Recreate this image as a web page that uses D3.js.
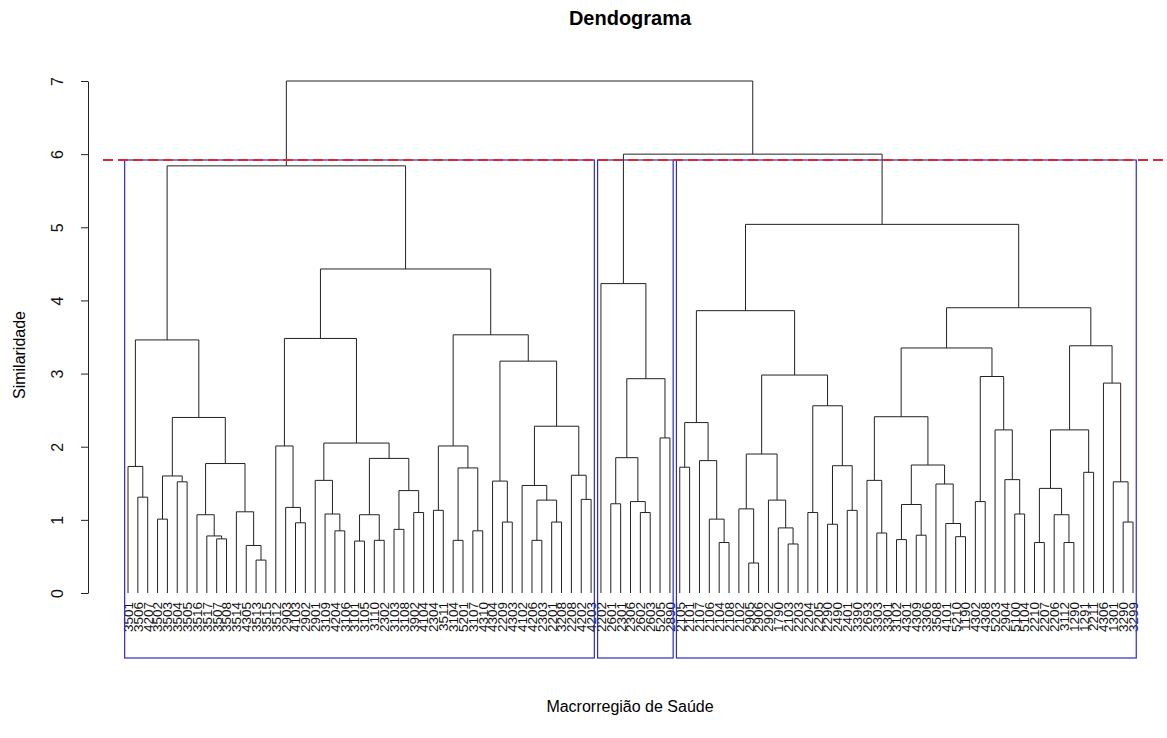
<!DOCTYPE html>
<html>
<head>
<meta charset="utf-8">
<script src="https://cdn.jsdelivr.net/npm/d3@7"></script>
<style>
  body { margin: 0; background: #fff; }
  svg { display: block; font-family: "Liberation Sans", Arial, sans-serif; }
</style>
</head>
<body>
<div id="chart"></div>
<script>
// Rótulos das folhas, na ordem em que aparecem no gráfico
const labels = [
  "3501","3506","4207","3502","3503","3504","3505","3516","3517","3507","3508","3514","4305","3513","3515","3512",
  "2903","4103","2902","2901","3109","4204","3106","3101","3105","3110","2302","3103","3108","3902","4104","2304",
  "3511","3104","5201","3107","4310","4304","2209","4303","4102","4206","2303","2201","3208","2208","4202","4203",
  "2202","2601","2301","2306","2602","2603","5205","2890",
  "2105","2101","2107","2106","2104","2108","2102","2905","2906","2902","1790","2103","2203","2204","2205","2290",
  "2490","2401","3390","2693","3303","3301","3102","4301","4309","3306","3508","4101","5210","1190","4302","4308",
  "5203","2904","5100","5104","2210","2207","2206","3112","1290","1291","2211","4306","1301","3290","3299"
];

// Fusões (estilo hclust): negativo = folha, positivo = fusão anterior
const mergeLeft = [
  -2, -1, -4, -6, 3, -10, -9, -8, -14, -13, -12, 8, 5, 2,
  -18, -17, -16, -22, -21, -20, -24, -26, 21, -28, -30, 24, 23, 20, 17,
  -32, -34, -36, 31, 30, -39, -38, -42, -44, 37, -41, -47, -46, 40, 36, 34, 29, 14,
  -50, -53, -52, 48, -55, 51, -49,
  -57, -61, -60, -59, 55, -64, -63, -68, -67, -66, 61, -70, -72, -74, 67, 66, 65, 59,
  -77, -76, -79, -81, 75, -85, -84, -83, 77, 74, -87, -91, -90, -89, 83, 82,
  -93, -96, -95, 89, -98, 92, -102, -101, -100, 94, 88, 72, 54, 47
];
const mergeRight = [
  -3, 1, -5, -7, 4, -11, 6, 7, -15, 9, 10, 11, 12, 13,
  -19, 15, 16, -23, 18, 19, -25, -27, 22, -29, -31, 25, 26, 27, 28,
  -33, -35, -37, 32, 33, -40, 35, -43, -45, 38, 39, -48, 41, 42, 43, 44, 45, 46,
  -51, -54, 49, 50, -56, 52, 53,
  -58, -62, 56, 57, 58, -65, 60, -69, 62, 63, 64, -71, -73, -75, 68, 69, 70, 71,
  -78, 73, -80, -82, 76, -86, 78, 79, 80, 81, -88, -92, 84, 85, 86, 87,
  -94, -97, 90, 91, -99, 93, -103, 95, 96, 97, 98, 99, 100, 101
];
const mergeHeight = [
  1.31, 1.73, 1.01, 1.52, 1.60, 0.74, 0.78, 1.07, 0.45, 0.65, 1.11, 1.77, 2.40, 3.46,
  0.96, 1.17, 2.01, 0.85, 1.08, 1.54, 0.71, 0.72, 1.07, 0.87, 1.10, 1.40, 1.84, 2.05, 3.48,
  1.13, 0.72, 0.85, 1.71, 2.01, 0.97, 1.53, 0.72, 0.97, 1.27, 1.47, 1.28, 1.61, 2.28, 3.17, 3.53, 4.43, 5.84,
  1.22, 1.10, 1.25, 1.85, 2.12, 2.93, 4.23,
  1.72, 0.69, 1.01, 1.81, 2.33, 0.41, 1.15, 0.67, 0.89, 1.27, 1.90, 1.10, 0.94, 1.13, 1.74, 2.56, 2.98, 3.86,
  0.82, 1.54, 0.73, 0.79, 1.21, 0.77, 0.95, 1.49, 1.75, 2.41, 1.25, 1.08, 1.55, 2.23, 2.96, 3.35,
  0.69, 0.69, 1.07, 1.43, 1.65, 2.23, 0.97, 1.52, 2.87, 3.38, 3.90, 5.04, 6.00, 7.00
];

const yTicks = [0, 1, 2, 3, 4, 5, 6, 7];
const clusterSizes = [48, 8, 47];
const cutHeight = 5.92;

const W = 1167, H = 738;
const svg = d3.select('#chart').append('svg')
  .attr('width', W)
  .attr('height', H);

const x = d3.scaleLinear().domain([1, labels.length]).range([128, 1133]);
const y = d3.scaleLinear().domain([0, 7]).range([593, 81]);
const plotLeft = 88, plotBottom = 658;

// Monta a árvore a partir das fusões
const nodes = [];
const ref = v => v < 0 ? { name: labels[-v - 1], idx: -v, height: 0 } : nodes[v - 1];
mergeHeight.forEach((h, i) => {
  nodes.push({ height: h, children: [ref(mergeLeft[i]), ref(mergeRight[i])] });
});
const root = d3.hierarchy(nodes[nodes.length - 1]);
root.eachAfter(d => {
  d.pos = d.children ? d3.mean(d.children, c => c.pos) : d.data.idx;
});

// Ramos
const g = svg.append('g');
g.selectAll('path.link')
  .data(root.descendants().filter(d => d.children))
  .enter().append('path')
  .attr('class', 'link')
  .attr('fill', 'none')
  .attr('stroke', '#222')
  .attr('stroke-width', 1)
  .attr('d', d => {
    const [a, b] = d.children;
    return `M${x(a.pos)},${y(a.data.height)}V${y(d.data.height)}H${x(b.pos)}V${y(b.data.height)}`;
  });

// Rótulos das folhas
g.selectAll('text.leaf')
  .data(root.leaves())
  .enter().append('text')
  .attr('class', 'leaf')
  .attr('transform', d => `translate(${x(d.pos)},602) rotate(-90)`)
  .attr('dy', '0.36em')
  .attr('text-anchor', 'end')
  .attr('font-size', 13.5)
  .attr('fill', '#111')
  .text(d => d.data.name);

// Retângulos dos grupos (rect.hclust)
const ends = [0, ...d3.cumsum(clusterSizes)];
svg.selectAll('rect.grp')
  .data(clusterSizes)
  .enter().append('rect')
  .attr('class', 'grp')
  .attr('x', (d, i) => x(ends[i] + 0.66))
  .attr('y', y(cutHeight))
  .attr('width', (d, i) => x(ends[i + 1] + 0.33) - x(ends[i] + 0.66))
  .attr('height', plotBottom - y(cutHeight))
  .attr('fill', 'none')
  .attr('stroke', '#2b2bd0')
  .attr('stroke-width', 1.2);

// Linha de corte
svg.append('line')
  .attr('x1', 103).attr('x2', W)
  .attr('y1', y(cutHeight)).attr('y2', y(cutHeight))
  .attr('stroke', '#e0262e')
  .attr('stroke-width', 2)
  .attr('stroke-dasharray', '10,5');

// Eixo y
const ax = svg.append('g')
  .attr('transform', `translate(${plotLeft},0)`)
  .call(d3.axisLeft(y).tickValues(yTicks).tickFormat(d3.format('d')).tickSize(7).tickSizeOuter(0));
ax.select('.domain').attr('stroke', '#222');
ax.selectAll('.tick line').attr('stroke', '#222');
ax.selectAll('.tick text')
  .attr('x', null).attr('dy', null)
  .attr('transform', 'translate(-25,0) rotate(-90)')
  .attr('text-anchor', 'middle')
  .attr('font-size', 16)
  .attr('font-family', '"Liberation Sans", Arial, sans-serif')
  .attr('fill', '#111');

// Títulos
svg.append('text')
  .attr('x', 630).attr('y', 25)
  .attr('text-anchor', 'middle')
  .attr('font-size', 20)
  .attr('font-weight', 'bold')
  .text('Dendograma');

svg.append('text')
  .attr('x', 630).attr('y', 712)
  .attr('text-anchor', 'middle')
  .attr('font-size', 16)
  .text('Macrorregião de Saúde');

svg.append('text')
  .attr('transform', 'translate(25,355) rotate(-90)')
  .attr('text-anchor', 'middle')
  .attr('font-size', 16)
  .text('Similaridade');
</script>
</body>
</html>
